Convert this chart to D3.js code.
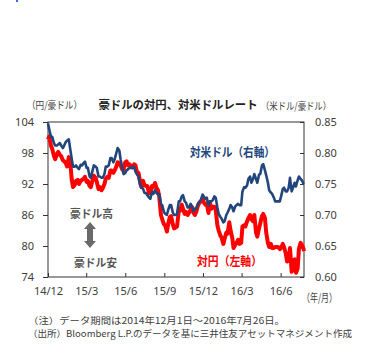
<!DOCTYPE html>
<html><head><meta charset="utf-8">
<script src="https://cdn.jsdelivr.net/npm/d3@7"></script>
<style>
body{margin:0;background:#fff}
svg{display:block}
text{font-family:"Noto Sans CJK JP","Noto Sans",sans-serif}
</style></head>
<body><svg id="c" width="370" height="359"></svg>
<script>
// observation dates (Mondays)
const datesA = [
"2014-12-01","2014-12-08","2014-12-15","2014-12-22","2014-12-29",
"2015-01-05","2015-01-12","2015-01-19","2015-01-26","2015-02-02","2015-02-09","2015-02-16","2015-02-23",
"2015-03-02","2015-03-09","2015-03-16","2015-03-23","2015-03-30","2015-04-06","2015-04-13","2015-04-20","2015-04-27",
"2015-05-04","2015-05-11","2015-05-18","2015-05-25","2015-06-01","2015-06-08","2015-06-15","2015-06-22","2015-06-29",
"2015-07-06","2015-07-13","2015-07-20","2015-07-27","2015-08-03","2015-08-10","2015-08-17","2015-08-24","2015-08-31",
"2015-09-07","2015-09-14","2015-09-21","2015-09-28","2015-10-05","2015-10-12","2015-10-19","2015-10-26",
"2015-11-02","2015-11-09","2015-11-16","2015-11-23","2015-11-30","2015-12-07","2015-12-14","2015-12-21","2015-12-28",
"2016-01-04","2016-01-11","2016-01-18","2016-01-25","2016-02-01","2016-02-08","2016-02-15","2016-02-22","2016-02-29",
"2016-03-07","2016-03-14","2016-03-21","2016-03-28","2016-04-04","2016-04-11","2016-04-18","2016-04-25",
"2016-05-02","2016-05-09","2016-05-16","2016-05-23","2016-05-30","2016-06-06","2016-06-13","2016-06-20","2016-06-27",
"2016-07-04","2016-07-11","2016-07-18","2016-07-25"];
// observation dates (Thursdays + last day)
const datesB = [
"2014-12-04","2014-12-11","2014-12-18","2014-12-25",
"2015-01-01","2015-01-08","2015-01-15","2015-01-22","2015-01-29","2015-02-05","2015-02-12","2015-02-19","2015-02-26",
"2015-03-05","2015-03-12","2015-03-19","2015-03-26","2015-04-02","2015-04-09","2015-04-16","2015-04-23","2015-04-30",
"2015-05-07","2015-05-14","2015-05-21","2015-05-28","2015-06-04","2015-06-11","2015-06-18","2015-06-25",
"2015-07-02","2015-07-09","2015-07-16","2015-07-23","2015-07-30","2015-08-06","2015-08-13","2015-08-20","2015-08-27",
"2015-09-03","2015-09-10","2015-09-17","2015-09-24","2015-10-01","2015-10-08","2015-10-15","2015-10-22","2015-10-29",
"2015-11-05","2015-11-12","2015-11-19","2015-11-26","2015-12-03","2015-12-10","2015-12-17","2015-12-24","2015-12-31",
"2016-01-07","2016-01-14","2016-01-21","2016-01-28","2016-02-04","2016-02-11","2016-02-18","2016-02-25",
"2016-03-03","2016-03-10","2016-03-17","2016-03-24","2016-03-31","2016-04-07","2016-04-14","2016-04-21","2016-04-28",
"2016-05-05","2016-05-12","2016-05-19","2016-05-26","2016-06-02","2016-06-09","2016-06-16","2016-06-23","2016-06-30",
"2016-07-07","2016-07-14","2016-07-21","2016-07-26"];
// AUD/JPY (left axis), values on datesA
const audJpyA = [
100.6,99.4,97.4,97.8,97.6,
96.6,96.0,97.2,92.8,91.8,92.8,92.6,93.0,
92.4,91.6,92.8,93.2,91.0,90.8,92.0,93.4,94.6,
94.2,95.4,96.0,94.8,96.2,95.6,95.4,95.8,94.2,
92.4,92.6,91.6,90.2,91.6,92.2,90.8,86.0,84.2,
82.8,85.6,84.2,83.6,86.8,88.0,86.2,86.0,
87.0,86.4,86.8,88.4,89.2,88.0,86.4,87.2,87.6,
84.0,82.0,80.4,82.6,84.6,81.6,80.2,81.2,80.6,
84.0,84.8,86.0,84.8,82.6,83.4,85.8,85.4,
80.6,80.4,79.6,79.8,79.4,80.4,78.6,77.2,75.0,
77.4,75.6,80.6,79.4];
// AUD/JPY on datesB
const audJpyB = [
101.2,98.8,96.8,98.2,
97.4,96.4,95.4,96.6,91.4,92.6,92.0,92.8,93.4,
92.6,91.4,93.6,92.4,91.4,91.2,93.0,93.2,94.6,
94.6,96.2,95.6,94.8,96.4,95.8,95.2,95.6,
94.2,91.4,91.8,91.6,90.2,91.4,91.4,89.6,85.2,
84.0,84.2,85.8,83.4,83.8,86.8,87.2,86.6,86.4,
87.6,86.0,87.8,88.6,88.4,88.2,88.4,87.6,87.0,
83.0,81.6,81.4,82.4,83.0,79.6,80.6,80.4,
83.8,83.8,85.4,85.2,86.0,81.8,84.4,86.2,82.6,
79.8,79.6,79.8,79.8,79.6,79.8,77.0,79.6,77.2,
74.8,79.4,80.2,79.0];
// AUD/USD (right axis), values on datesA
const audUsdA = [
0.848,0.826,0.816,0.812,0.816,
0.808,0.818,0.822,0.790,0.778,0.776,0.781,0.784,
0.776,0.762,0.772,0.778,0.762,0.760,0.766,0.778,0.792,
0.785,0.800,0.804,0.776,0.768,0.774,0.776,0.778,0.765,
0.748,0.742,0.735,0.728,0.737,0.740,0.733,0.718,0.705,
0.700,0.716,0.704,0.700,0.722,0.730,0.722,0.712,
0.718,0.706,0.712,0.722,0.733,0.726,0.715,0.722,0.730,
0.712,0.697,0.688,0.700,0.710,0.712,0.714,0.718,0.716,
0.745,0.748,0.762,0.758,0.758,0.765,0.780,0.772,
0.752,0.736,0.728,0.722,0.722,0.742,0.738,0.744,0.738,
0.752,0.756,0.758,0.750];
// AUD/USD on datesB
const audUsdB = [
0.838,0.826,0.812,0.814,
0.812,0.812,0.820,0.808,0.778,0.780,0.774,0.780,0.786,
0.776,0.760,0.780,0.776,0.762,0.760,0.778,0.780,0.792,
0.790,0.808,0.790,0.766,0.772,0.776,0.776,0.770,
0.762,0.745,0.736,0.732,0.726,0.734,0.736,0.734,0.716,
0.702,0.708,0.716,0.700,0.702,0.722,0.732,0.720,0.712,
0.714,0.710,0.718,0.724,0.730,0.728,0.722,0.724,0.728,
0.702,0.694,0.690,0.704,0.716,0.706,0.716,0.716,
0.738,0.744,0.758,0.752,0.766,0.752,0.766,0.782,0.764,
0.740,0.734,0.722,0.722,0.730,0.744,0.738,0.760,0.744,
0.746,0.762,0.756,0.750];
const leftTicks = [74,80,86,92,98,104];
const rightTicks = [0.60,0.65,0.70,0.75,0.80,0.85];
const xTickDates = ["2014-12-01","2015-03-01","2015-06-01","2015-09-01","2015-12-01","2016-03-01","2016-06-01"];
const xTickLabels = ["14/12","15/3","15/6","15/9","15/12","16/3","16/6"];

const parse = d3.timeParse("%Y-%m-%d");
const svg = d3.select("#c");
const L = 48, R = 304, T = 122, B = 277;

const x = d3.scaleTime().domain([parse("2014-12-01"), parse("2016-07-26")]).range([L, R]);
const yL = d3.scaleLinear().domain([74,104]).range([B, T]);
const yR = d3.scaleLinear().domain([0.60,0.85]).range([B, T]);

const txt = "#404040";

// stray dot in the top-left of the reference image
svg.append("rect").attr("x",16).attr("y",0).attr("width",2).attr("height",2).attr("fill","#4a5ee8");

// axes
const gl = svg.append("g").attr("transform",`translate(${L},0)`)
  .call(d3.axisLeft(yL).tickValues(leftTicks).tickSizeInner(5).tickSizeOuter(0).tickPadding(9).tickFormat(d3.format("d")));
const gr = svg.append("g").attr("transform",`translate(${R},0)`)
  .call(d3.axisRight(yR).tickValues(rightTicks).tickSizeInner(-4).tickSizeOuter(0).tickPadding(11).tickFormat(d3.format(".2f")));
const xTickVals = xTickDates.map(parse);
const gb = svg.append("g").attr("transform",`translate(0,${B})`)
  .call(d3.axisBottom(x).tickValues(xTickVals).tickSizeInner(-4).tickSizeOuter(0).tickPadding(10)
    .tickFormat((d,i)=>xTickLabels[i]));
[gl,gr,gb].forEach(g=>{
  g.select(".domain").remove();
  g.selectAll("line").attr("stroke","#333");
  g.selectAll("text").attr("fill",txt).style("font-size","11px").style("font-family","'Noto Sans','DejaVu Sans',sans-serif");
});

// frame
svg.append("rect").attr("x",L).attr("y",T).attr("width",R-L).attr("height",B-T)
  .attr("fill","none").attr("stroke","#333").attr("stroke-width",1);

const pts = datesA.map((d,i)=>({d:parse(d), j:audJpyA[i], u:audUsdA[i]}))
  .concat(datesB.map((d,i)=>({d:parse(d), j:audJpyB[i], u:audUsdB[i]})))
  .sort((a,b)=>a.d-b.d);
svg.append("path").datum(pts).attr("fill","none").attr("stroke","#FF0000").attr("stroke-width",4)
  .attr("stroke-linejoin","round")
  .attr("d", d3.line().x(p=>x(p.d)).y(p=>yL(p.j)));
svg.append("path").datum(pts).attr("fill","none").attr("stroke","#22467C").attr("stroke-width",2.6)
  .attr("stroke-linejoin","round")
  .attr("d", d3.line().x(p=>x(p.d)).y(p=>yR(p.u)));

// titles
svg.append("text").attr("x",178).attr("y",109).attr("text-anchor","middle")
  .attr("font-size","11.5px").attr("font-weight","bold").attr("fill","#222")
  .attr("textLength",159).attr("lengthAdjust","spacingAndGlyphs").text("豪ドルの対円、対米ドルレート");
svg.append("text").attr("x",27).attr("y",109).attr("font-size","10px").attr("fill",txt)
  .attr("textLength",55).attr("lengthAdjust","spacingAndGlyphs").text("（円/豪ドル）");
svg.append("text").attr("x",261).attr("y",110).attr("font-size","10px").attr("fill",txt)
  .attr("textLength",70).attr("lengthAdjust","spacingAndGlyphs").text("（米ドル/豪ドル）");
svg.append("text").attr("x",302).attr("y",302).attr("font-size","11px").attr("fill",txt)
  .attr("textLength",35).attr("lengthAdjust","spacingAndGlyphs").text("（年/月）");

// annotations
svg.append("text").attr("x",190).attr("y",157).attr("font-size","12px").attr("font-weight","bold").attr("fill","#22467C")
  .attr("textLength",85).attr("lengthAdjust","spacingAndGlyphs").text("対米ドル（右軸）");
svg.append("text").attr("x",197).attr("y",266).attr("font-size","12px").attr("font-weight","bold").attr("fill","#FF0000")
  .attr("textLength",65).attr("lengthAdjust","spacingAndGlyphs").text("対円（左軸）");
svg.append("text").attr("x",70).attr("y",218).attr("font-size","11px").attr("font-weight","bold").attr("fill","#555")
  .attr("textLength",43).attr("lengthAdjust","spacingAndGlyphs").text("豪ドル高");
svg.append("text").attr("x",74).attr("y",267).attr("font-size","11px").attr("font-weight","bold").attr("fill","#555")
  .attr("textLength",43).attr("lengthAdjust","spacingAndGlyphs").text("豪ドル安");

// double arrow
const ax = 90, a1 = 222, a2 = 248;
svg.append("path").attr("fill","#6a6a6a")
  .attr("d",`M${ax},${a1} L${ax+6},${a1+7} L${ax+3},${a1+7} L${ax+3},${a2-7} L${ax+6},${a2-7} L${ax},${a2} L${ax-6},${a2-7} L${ax-3},${a2-7} L${ax-3},${a1+7} L${ax-6},${a1+7} Z`);

// footnotes
svg.append("text").attr("x",28).attr("y",323.5).attr("font-size","9px").attr("fill",txt)
  .attr("textLength",257).attr("lengthAdjust","spacingAndGlyphs").text("（注）データ期間は2014年12月1日～2016年7月26日。");
svg.append("text").attr("x",28).attr("y",337).attr("font-size","9px").attr("fill",txt)
  .attr("textLength",324).attr("lengthAdjust","spacingAndGlyphs").text("（出所）Bloomberg L.P.のデータを基に三井住友アセットマネジメント作成");
</script></body></html>
